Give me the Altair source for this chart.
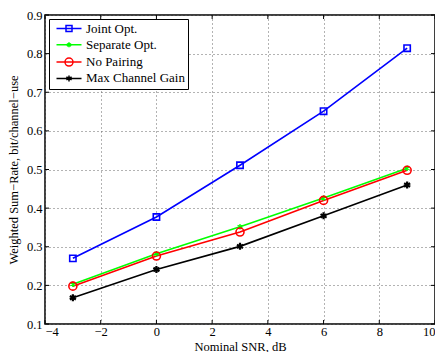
import altair as alt
import pandas as pd

snr = [-3, 0, 3, 6, 9]
series_names = ["Joint Opt.", "Separate Opt.", "No Pairing", "Max Channel Gain"]
joint = [0.270, 0.377, 0.511, 0.651, 0.814]
separate = [0.203, 0.282, 0.352, 0.426, 0.503]
no_pairing = [0.198, 0.276, 0.338, 0.420, 0.498]
max_gain = [0.168, 0.241, 0.301, 0.380, 0.460]
x_ticks = [-4, -2, 0, 2, 4, 6, 8, 10]
y_ticks = [0.1, 0.2, 0.3, 0.4, 0.5, 0.6, 0.7, 0.8, 0.9]
colors = ["#0000ff", "#00ff00", "#ff0000", "#000000"]

W, H = 390, 309
FONT = "Liberation Serif"

rows = []
for name, vals in zip(series_names, [joint, separate, no_pairing, max_gain]):
    for s, v in zip(snr, vals):
        rows.append({"series": name, "snr": s, "rate": v})
df = pd.DataFrame(rows)

ast = "M0,-1V1M-0.87,-0.5L0.87,0.5M-0.87,0.5L0.87,-0.5"
plot_shapes = ["square", ast, "circle", ast]
plot_sizes = [40, 30, 64, 49]
plot_widths = [1.6, 1.3, 1.6, 2.2]

line = "M-0.4,0H4.6"
legend_shapes = [
    line + "M1.5,-0.6H2.7V0.6H1.5Z",
    line + "M2.1,-0.5V0.5M1.67,-0.25L2.53,0.25M1.67,0.25L2.53,-0.25",
    line + "M2.9,0A0.8,0.8 0 1,1 1.3,0A0.8,0.8 0 1,1 2.9,0",
    line + "M2.1,-0.6V0.6M1.58,-0.3L2.62,0.3M1.58,0.3L2.62,-0.3",
]

xscale = alt.Scale(domain=[-4, 10], nice=False, zero=False)
yscale = alt.Scale(domain=[0.1, 0.9], nice=False, zero=False)

xaxis = alt.Axis(values=x_ticks, format="d", title="Nominal SNR, dB",
                 grid=True, gridDash=[1, 3], gridColor="#666", gridWidth=1,
                 domain=False, ticks=False, labelPadding=1,
                 labelFont=FONT, labelFontSize=12.5, labelColor="black",
                 titleFont=FONT, titleFontSize=12.5, titleFontWeight="normal",
                 titleColor="black", titleY=26, titleBaseline="alphabetic")
yaxis = alt.Axis(values=y_ticks, format=".1f",
                 title="Weighted Sum\u2212Rate, bit/channel\u2212use",
                 grid=True, gridDash=[1, 3], gridColor="#666", gridWidth=1,
                 domain=False, ticks=False, labelPadding=3,
                 labelFont=FONT, labelFontSize=12.5, labelColor="black",
                 titleFont=FONT, titleFontSize=12.5, titleFontWeight="normal",
                 titleColor="black", titleAngle=270, titleX=-28, titleY=H / 2,
                 titleAlign="center", titleBaseline="alphabetic")

X = alt.X("snr:Q", scale=xscale, axis=xaxis)
Y = alt.Y("rate:Q", scale=yscale, axis=yaxis)
color_scale = alt.Scale(domain=series_names, range=colors)

leg = alt.Legend(title=None, orient="top-left", offset=4, padding=3, rowPadding=2.3,
                 symbolSize=100, symbolStrokeWidth=1.5, symbolOpacity=1,
                 labelOffset=21, labelFont=FONT, labelFontSize=13, labelColor="black",
                 labelLimit=400, strokeColor="black", fillColor="white", cornerRadius=0)
C = alt.Color("series:N", scale=color_scale, legend=leg)

lines = alt.Chart(df).mark_line(strokeWidth=1.6).encode(
    x=X, y=Y, color=C, detail="series:N",
)

point_layers = []
for i, name in enumerate(series_names):
    point_layers.append(
        alt.Chart(df).transform_filter(alt.datum.series == name).mark_point(
            filled=False, opacity=1, shape=plot_shapes[i], size=plot_sizes[i],
            strokeWidth=plot_widths[i]
        ).encode(x=X, y=Y, color=C)
    )

legend_layer = alt.Chart(df).transform_filter("datum.rate < 0").mark_point(
    filled=False, opacity=1
).encode(
    x=X, y=Y, color=C,
    shape=alt.Shape("series:N", scale=alt.Scale(domain=series_names, range=legend_shapes), legend=leg),
)

xt = pd.DataFrame({"snr": x_ticks})
yt = pd.DataFrame({"rate": y_ticks})
xtick_b = alt.Chart(xt).mark_rule(color="black", strokeWidth=1).encode(x=X, y=alt.value(H), y2=alt.value(H - 4))
xtick_t = alt.Chart(xt).mark_rule(color="black", strokeWidth=1).encode(x=X, y=alt.value(0), y2=alt.value(4))
ytick_l = alt.Chart(yt).mark_rule(color="black", strokeWidth=1).encode(y=Y, x=alt.value(0), x2=alt.value(4))
ytick_r = alt.Chart(yt).mark_rule(color="black", strokeWidth=1).encode(y=Y, x=alt.value(W - 4), x2=alt.value(W))

chart = alt.layer(xtick_b, xtick_t, ytick_l, ytick_r, lines, *point_layers, legend_layer).properties(
    width=W, height=H,
    padding={"left": 37, "top": 7, "right": 0, "bottom": 28},
    autosize=alt.AutoSizeParams(type="none"),
    background="white",
).configure(font=FONT).configure_view(stroke="black", strokeWidth=1.5).configure_legend(
    labelFont=FONT
).configure_axis(labelFont=FONT, titleFont=FONT)

chart.save("out.html", embed_options={"renderer": "svg", "actions": False})
